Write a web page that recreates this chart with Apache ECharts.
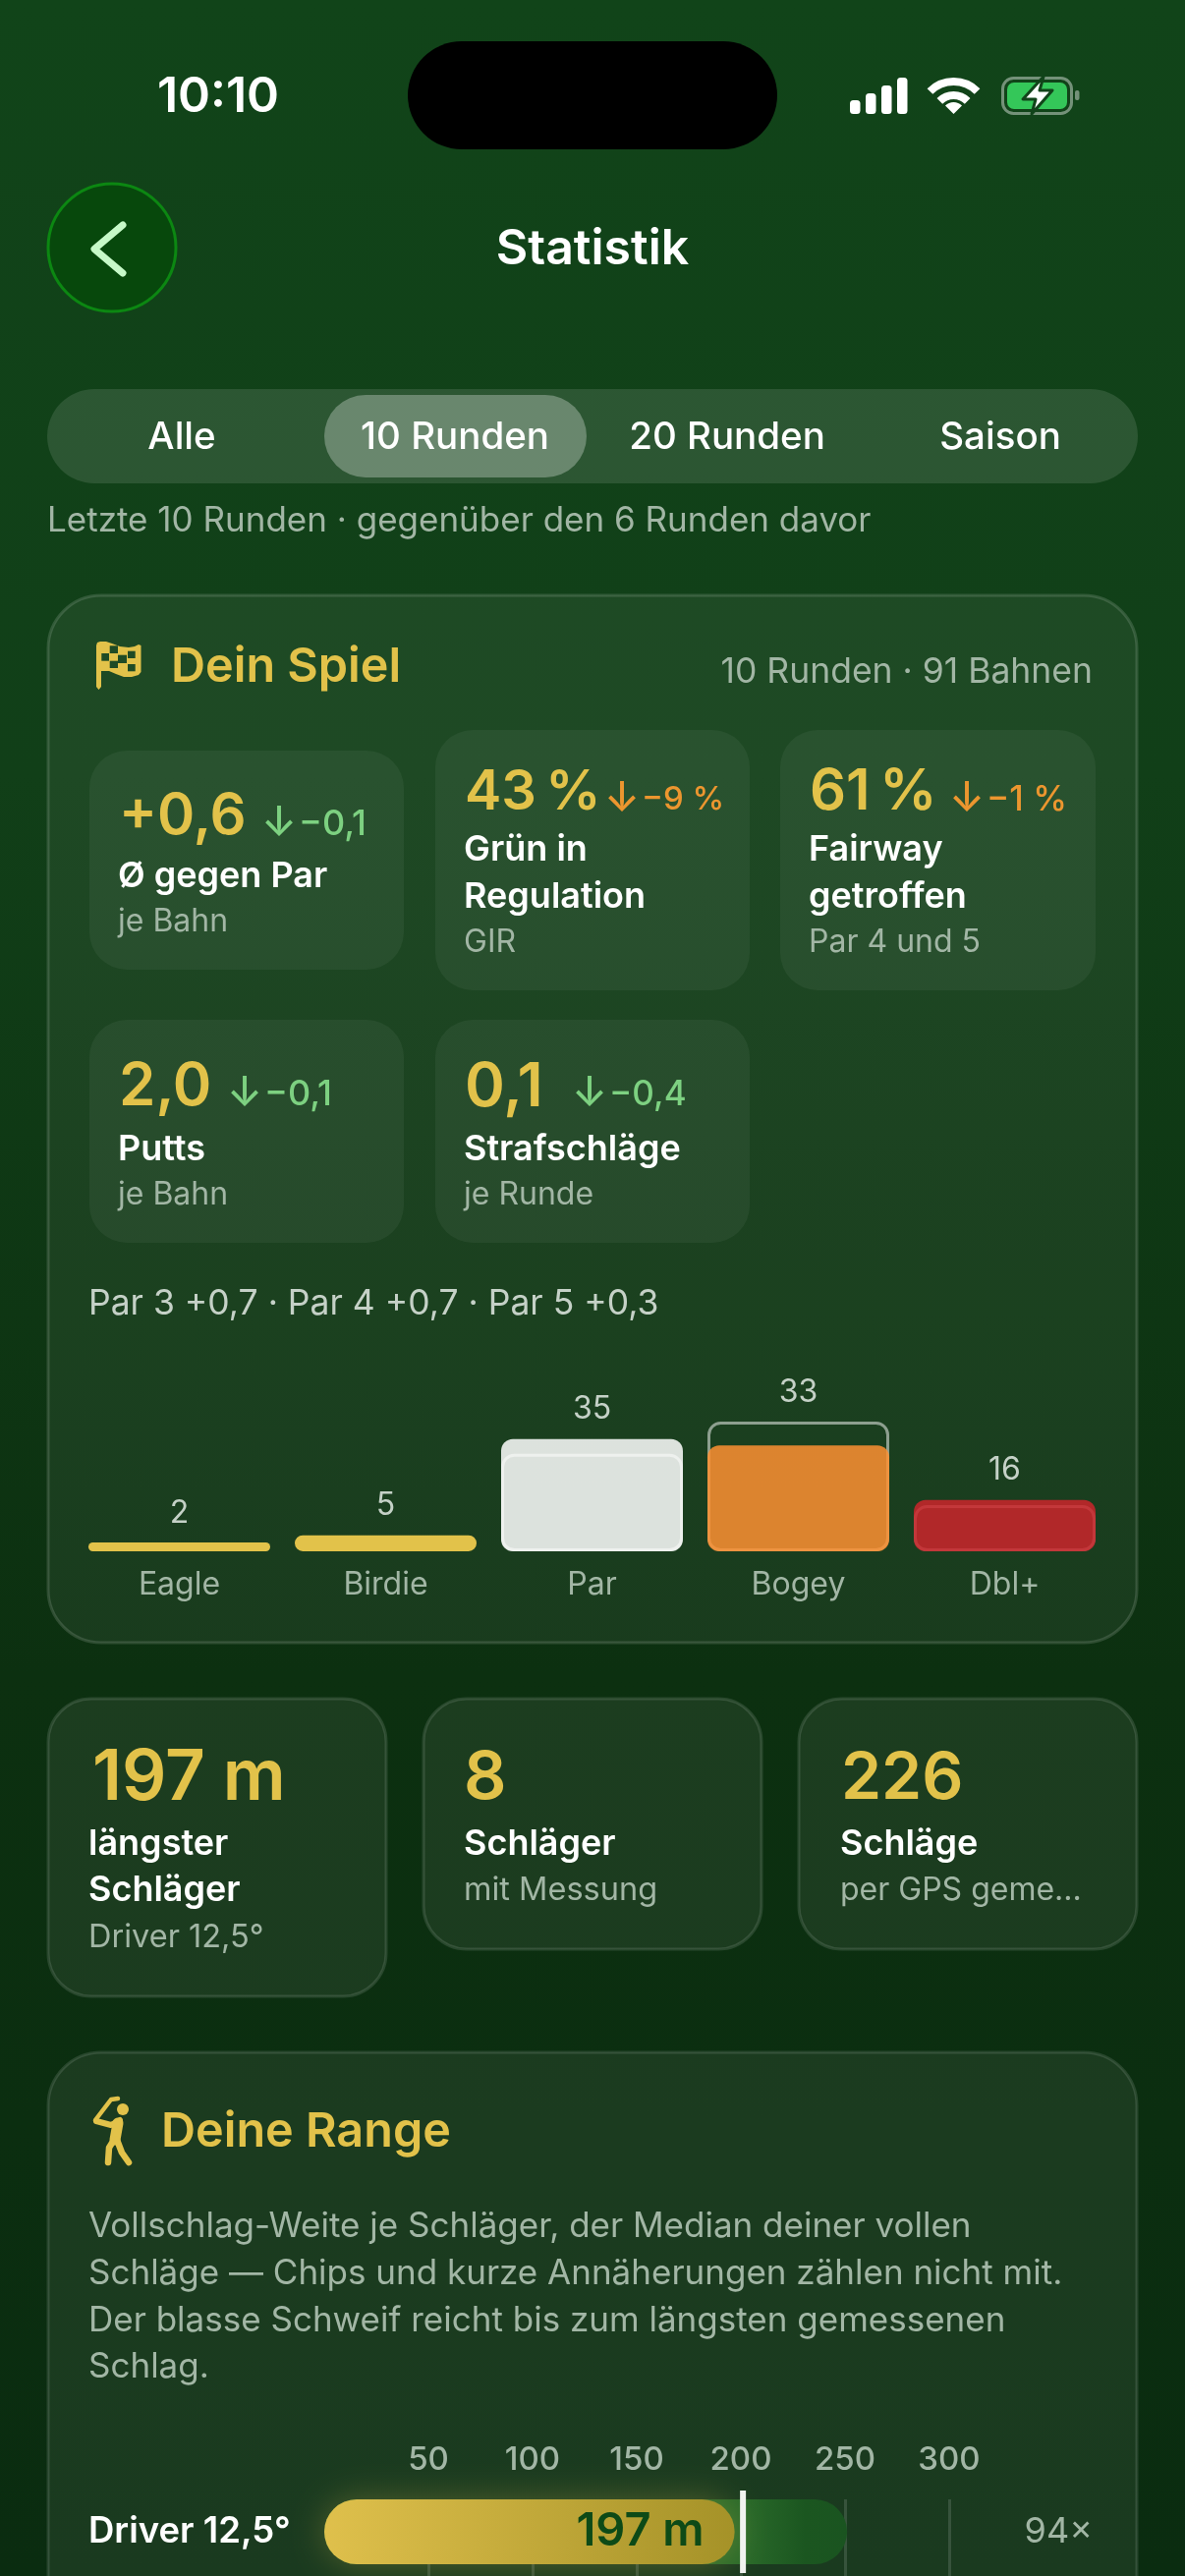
<!DOCTYPE html>
<html><head><meta charset="utf-8">
<style>html,body{margin:0;padding:0;background:#0c3010}#c{width:1206px;height:2622px}</style>
<script src="https://cdn.jsdelivr.net/npm/echarts@6/dist/echarts.min.js"></script>
</head><body><div id="c"></div>
<script>
const scoreCategories = ['Eagle','Birdie','Par','Bogey','Dbl+'];
const scoreCounts = [2,5,35,33,16];
const scorePrevious = [null,null,30.4,40.4,14.4];
const scoreColors = ['#e2c24a','#e2c24a','rgba(255,255,255,0.85)','rgba(255,145,50,0.85)','rgba(204,37,43,0.85)'];
const clubs = ['Driver 12,5°',''];
const clubMedian = [197,null];
const clubLongest = [251,null];
const clubMarker = [201];
const clubShots = ['94×',''];
const rangeTicks = [0,50,100,150,200,250,300];

const F='Inter, "Noto Sans", sans-serif';
const GREY='#a2b6a5', GOLD='#e2c24a', GREEN='#7dd181', ORANGE='#ec962f', W='#ffffff';
const g=[];
function T(x,y,text,size,weight,fill,align){g.push({type:'text',z:1,style:{x,y:y+2,text,font:`${weight} ${size}px ${F}`,fill,textAlign:align||'left',textVerticalAlign:'middle'}});}
function R(x,y,w,h,r,fill,stroke,lw){g.push({type:'rect',z:0,shape:{x,y,width:w,height:h,r},style:{fill,stroke:stroke||null,lineWidth:lw||0}});}
function PG(points,fill,stroke,lw,smooth){g.push({type:'polygon',z:1,shape:{points,smooth:smooth||0},style:{fill,stroke:stroke||null,lineWidth:lw||0,lineJoin:'round'}});}
function PL(points,stroke,lw){g.push({type:'polyline',z:1,shape:{points},style:{fill:'none',stroke,lineWidth:lw,lineCap:'round',lineJoin:'round'}});}

// status bar
T(222,97,'10:10',50,600,W,'center');
R(415,42,376,110,55,'#000');
[[865,102],[881,95],[897,87],[913,79]].forEach(b=>R(b[0],b[1],10.5,116-b[1],3.5,W));
[34,20].forEach(r=>g.push({type:'arc',z:1,shape:{cx:970.5,cy:117,r,startAngle:-Math.PI*3/4,endAngle:-Math.PI/4},style:{fill:'none',stroke:W,lineWidth:8}}));
g.push({type:'sector',z:1,shape:{cx:970.5,cy:116,r0:0,r:12,startAngle:-Math.PI*3/4,endAngle:-Math.PI/4},style:{fill:W}});
R(1020.5,79.5,70,36,11,'none','rgba(255,255,255,0.42)',3);
R(1025,84,61,27,7,'#34c759');
R(1094,92,4.5,10,2,'rgba(255,255,255,0.42)');
PG([[1062,78],[1041,101],[1054,101],[1050,116],[1071,92],[1058,92]],W,'#11441a',3);

// header
g.push({type:'circle',z:0,shape:{cx:114,cy:252,r:65},style:{fill:'#07480c',stroke:'#0c8712',lineWidth:3}});
PL([[125,229],[96,253.5],[125,278]],'#c6f9c8',7);
T(603,252,'Statistik',50,600,W,'center');

// segmented control
R(48,396,1110,96,48,'rgba(255,255,255,0.115)');
R(330,402,267,84,42,'rgba(255,255,255,0.29)');
T(185,443,'Alle',38.5,500,W,'center');
T(463,443,'10 Runden',38.5,500,W,'center');
T(740,443,'20 Runden',38.5,500,W,'center');
T(1018,443,'Saison',38.5,500,W,'center');
T(48,528,'Letzte 10 Runden · gegenüber den 6 Runden davor',35,400,GREY);

// card "Dein Spiel"
R(49,606,1108,1066,54,'rgba(255,255,255,0.055)','rgba(255,255,255,0.14)',3);
PG([[98,657],[99,654],[102,653],[108,653],[114,655],[122,658],[131,659],[137,658],[141,656],[143.5,657],[143.5,684],[141,687],[134,689],[126,689],[118,686],[111,683],[103,683],[103,699],[100.5,702],[98,699]],GOLD);
[[103.3,665,7.7,7.7],[111.7,657.3,8.3,7.7],[120,666.7,9,8.3],[111.7,672.7,8.3,7.3],[130,662.7,7.7,7.3],[130,676,7.7,7.3]].forEach(s=>g.push({type:'rect',z:1,shape:{x:s[0],y:s[1],width:s[2],height:s[3]},style:{fill:'#1f4b25'}}));
T(174,677,'Dein Spiel',48.5,600,GOLD);
T(1112,682,'10 Runden · 91 Bahnen',35.5,400,GREY,'right');

const tiles=[
 {x:91,y:764,w:320,h:223,val:'+0,6',vs:58,vy:830,ax:266,delta:'−0,1',ds:36,dc:GREEN,lab:['Ø gegen Par'],ly:890,sub:'je Bahn'},
 {x:443,y:743,w:320,h:265,val:'43\u2009%',vs:56,vy:805,ax:615,delta:'−9 %',ds:33,dc:ORANGE,lab:['Grün in','Regulation'],ly:863,sub:'GIR'},
 {x:794,y:743,w:321,h:265,val:'61\u2009%',vs:58,vy:805,ax:966,delta:'−1 %',ds:35,dc:ORANGE,lab:['Fairway','getroffen'],ly:863,sub:'Par 4 und 5'},
 {x:91,y:1038,w:320,h:227,val:'2,0',vs:60,vy:1105,ax:231,delta:'−0,1',ds:36,dc:GREEN,lab:['Putts'],ly:1168,sub:'je Bahn'},
 {x:443,y:1038,w:320,h:227,val:'0,1',vs:62,vy:1105,ax:582,delta:'−0,4',ds:35,dc:GREEN,lab:['Strafschläge'],ly:1168,sub:'je Runde'}
];
tiles.forEach(t=>{
 R(t.x,t.y,t.w,t.h,38,'rgba(255,255,255,0.05)');
 T(t.x+30,t.vy,t.val,t.vs,600,GOLD);
 T(t.ax,t.vy+6,'↓',42,500,t.dc);
 T(t.ax+38,t.vy+7,t.delta,t.ds,500,t.dc);
 let ly=t.ly;
 t.lab.forEach(l=>{T(t.x+29,ly,l,36,600,W);ly+=48;});
 T(t.x+29,ly-2,t.sub,32,400,GREY);
});
T(90,1325,'Par 3 +0,7 · Par 4 +0,7 · Par 5 +0,3',35.5,400,'#c5d1c7');

// small stat cards
[[49,1729,344,303],[431,1729,344,255],[813,1729,344,255]].forEach(c=>R(c[0],c[1],c[2],c[3],44,'rgba(255,255,255,0.068)','rgba(255,255,255,0.12)',3));
T(94,1809,'197 m',71,600,GOLD);
T(90,1875,'längster',36,600,W); T(90,1922,'Schläger',36,600,W); T(90,1970,'Driver 12,5°',32.5,400,GREY);
T(472,1809,'8',68,600,GOLD);
T(472,1875,'Schläger',36,600,W); T(472,1922,'mit Messung',32.5,400,GREY);
T(856,1809,'226',66,600,GOLD);
T(855,1875,'Schläge',36,600,W); T(855,1922,'per GPS geme...',32,400,GREY);

// card "Deine Range"
R(49,2089,1108,640,54,'rgba(255,255,255,0.068)','rgba(255,255,255,0.12)',3);
g.push({type:'circle',z:1,shape:{cx:125,cy:2147,r:6},style:{fill:GOLD}});
PL([[97,2158],[113,2137],[120,2136]],GOLD,4.5);
PL([[98,2159],[113,2163],[122,2158]],GOLD,6);
PL([[120,2161],[117,2178]],GOLD,11);
PL([[116,2178],[111,2186],[110,2201]],GOLD,6.5);
PL([[119,2178],[124,2191],[131,2201]],GOLD,6.5);
T(164,2168,'Deine Range',48.5,600,GOLD);
['Vollschlag-Weite je Schläger, der Median deiner vollen','Schläge — Chips und kurze Annäherungen zählen nicht mit.','Der blasse Schweif reicht bis zum längsten gemessenen','Schlag.'].forEach((l,i)=>T(90,[2264,2312,2360,2407][i],l,35,400,GREY));

const chart=echarts.init(document.getElementById('c'),null,{renderer:'canvas',width:1206,height:2622});
chart.setOption({
 animation:false,
 backgroundColor:{type:'linear',x:0,y:0,x2:0,y2:1,colorStops:[{offset:0,color:'#114419'},{offset:0.3,color:'#113f18'},{offset:0.65,color:'#0c3010'},{offset:1,color:'#0a2c10'}]},
 graphic:{elements:g},
 grid:[
  {left:77.5,top:1432,width:1050,height:147,outerBoundsMode:'none'},
  {left:330,top:2544,width:636,height:132,outerBoundsMode:'none'}
 ],
 xAxis:[
  {gridIndex:0,type:'category',data:scoreCategories,axisLine:{show:false},axisTick:{show:false},
   axisLabel:{color:GREY,fontFamily:F,fontSize:32,margin:18,verticalAlign:'top',interval:0}},
  {gridIndex:1,type:'value',position:'top',min:0,max:300,interval:50,
   axisLine:{show:false},axisTick:{show:false},
   axisLabel:{color:GREY,fontFamily:F,fontSize:33,fontWeight:500,margin:23,formatter:v=>rangeTicks.includes(v)&&v>0?String(v):''},
   splitLine:{show:true,showMinLine:false,lineStyle:{color:'rgba(255,255,255,0.13)',width:3}}}
 ],
 yAxis:[
  {gridIndex:0,type:'value',min:0,max:45,show:false},
  {gridIndex:1,type:'category',inverse:true,data:clubs,axisLine:{show:false},axisTick:{show:false},
   axisLabel:{color:W,fontFamily:F,fontSize:36.5,fontWeight:600,align:'left',margin:240,interval:0},splitLine:{show:false}},
  {gridIndex:1,type:'category',inverse:true,position:'right',data:clubShots,axisLine:{show:false},axisTick:{show:false},
   axisLabel:{color:GREY,fontFamily:F,fontSize:36,align:'right',margin:146,interval:0},splitLine:{show:false}}
 ],
 series:[
  {name:'Vorher',type:'bar',xAxisIndex:0,yAxisIndex:0,data:scorePrevious,barWidth:185,barGap:'-100%',z:2,
   itemStyle:{color:'rgba(0,0,0,0)',borderColor:'rgba(255,255,255,0.5)',borderWidth:3,borderRadius:12}},
  {name:'Bahnen',type:'bar',xAxisIndex:0,yAxisIndex:0,data:scoreCounts.map((v,i)=>({value:v,itemStyle:{color:scoreColors[i]}})),barWidth:185,barMinHeight:9,z:3,
   itemStyle:{borderRadius:12}},
  {name:'Anzahl',type:'bar',xAxisIndex:0,yAxisIndex:0,data:scoreCounts.map((v,i)=>Math.max(v,scorePrevious[i]||0)),barWidth:185,barMinHeight:9,z:4,
   itemStyle:{color:'rgba(0,0,0,0)'},
   label:{show:true,position:'top',distance:14,color:'#c5d1c7',fontFamily:F,fontSize:32,formatter:p=>String(scoreCounts[p.dataIndex])}},
  {name:'Längster',type:'bar',xAxisIndex:1,yAxisIndex:1,data:clubLongest,barWidth:66,barGap:'-100%',z:2,
   itemStyle:{borderRadius:33,color:{type:'linear',x:0,y:0,x2:1,y2:0,colorStops:[{offset:0.8,color:'#2a6a2a'},{offset:0.92,color:'#1b5620'},{offset:1,color:'#1a5420'}]}}},
  {name:'Median',type:'bar',xAxisIndex:1,yAxisIndex:1,data:clubMedian,barWidth:66,z:3,
   itemStyle:{borderRadius:33,shadowBlur:34,shadowColor:'rgba(226,194,74,0.28)',color:{type:'linear',x:0,y:0,x2:1,y2:0,colorStops:[{offset:0,color:'#dfc04c'},{offset:1,color:'#a59228'}]}},
   label:{show:true,position:'insideRight',distance:31,color:'#0d4a17',fontFamily:F,fontSize:47,fontWeight:600,formatter:p=>p.value==null?'':p.value+' m'}},
  {name:'Marke',type:'scatter',xAxisIndex:1,yAxisIndex:1,data:clubMarker.map((v,i)=>[v,i]),symbol:'rect',symbolSize:[6,84],z:5,
   itemStyle:{color:'#f1f3f0',opacity:1}}
 ]
});
</script></body></html>
